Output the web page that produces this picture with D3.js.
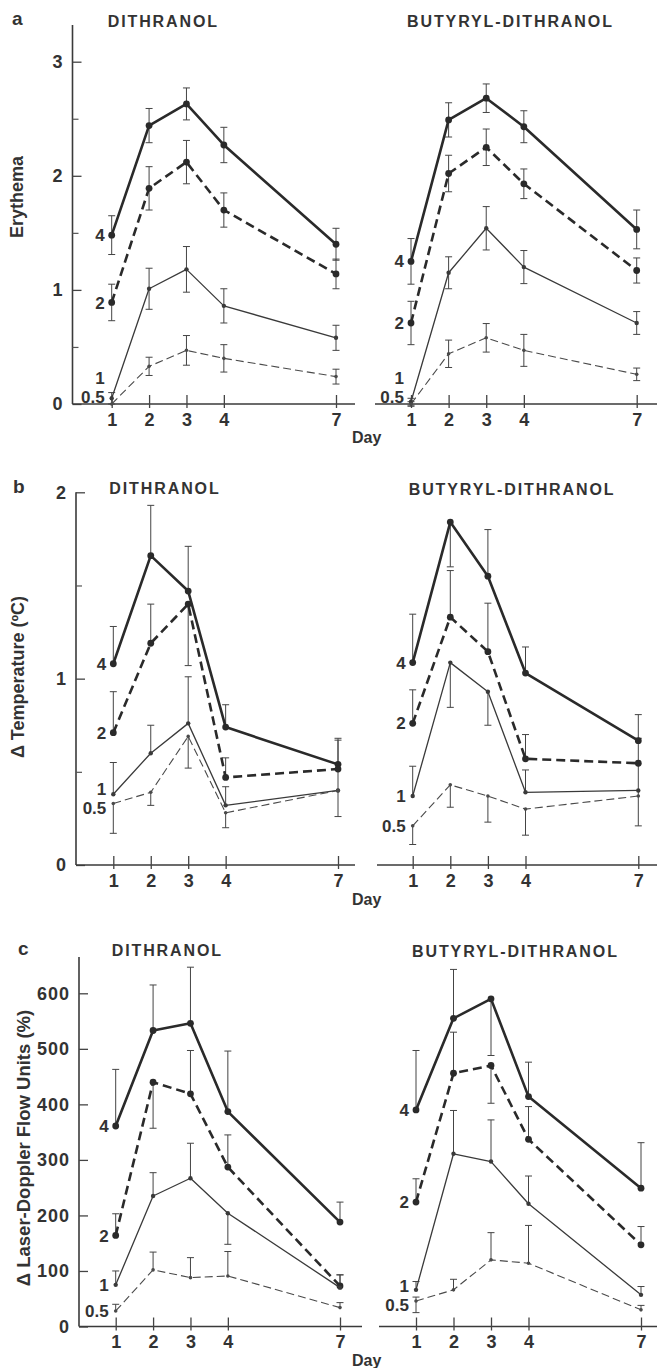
<!DOCTYPE html>
<html>
<head>
<meta charset="utf-8">
<script src="https://cdn.jsdelivr.net/npm/d3@7"></script>
<style>
  body { margin: 0; background: #fff; }
  svg text { font-family: "Liberation Sans", Arial, sans-serif; font-weight: bold; fill: #333; }
</style>
</head>
<body>
<svg id="fig" width="657" height="1368"></svg>
<script>
/* -------------------------------------------------------------------------- */
// data: rows are the doses 4, 2, 1, 0.5 ; columns are the days
const days  = [1, 2, 3, 4, 7];
const doses = ['4', '2', '1', '0.5'];

// a : erythema (symmetric SEM)
const eryDith = [
  [1.48, 2.44, 2.63, 2.27, 1.40],
  [0.89, 1.89, 2.12, 1.70, 1.14],
  [0.05, 1.01, 1.18, 0.86, 0.58],
  [0.00, 0.33, 0.47, 0.40, 0.24]
];
const eryDithErr = [
  [0.17, 0.15, 0.14, 0.155, 0.14],
  [0.16, 0.19, 0.19, 0.15, 0.13],
  [0.05, 0.18, 0.20, 0.15, 0.11],
  [0.00, 0.08, 0.13, 0.12, 0.065]
];
const eryBut = [
  [1.25, 2.49, 2.68, 2.43, 1.53],
  [0.71, 2.02, 2.25, 1.93, 1.17],
  [0.02, 1.15, 1.54, 1.20, 0.71],
  [0.00, 0.44, 0.58, 0.47, 0.26]
];
const eryButErr = [
  [0.20, 0.15, 0.125, 0.14, 0.17],
  [0.19, 0.16, 0.16, 0.13, 0.11],
  [0.03, 0.14, 0.19, 0.145, 0.10],
  [0.02, 0.12, 0.125, 0.14, 0.055]
];

// b : temperature (one sided bars)
const tempDith = [
  [1.08, 1.66, 1.47, 0.74, 0.54],
  [0.71, 1.19, 1.40, 0.47, 0.515],
  [0.38, 0.60, 0.76, 0.32, 0.40],
  [0.33, 0.39, 0.69, 0.28, 0.40]
];
const tempDithUp = [
  [0.20, 0.27, 0.24, 0.12, 0.14],
  [0.22, 0.21, 0, 0.105, 0],
  [0.17, 0.15, 0.25, 0.10, 0.27],
  [0, 0, 0, 0, 0]
];
const tempDithDown = [
  [0, 0, 0, 0, 0],
  [0, 0, 0.33, 0, 0],
  [0, 0, 0, 0, 0.14],
  [0.16, 0.07, 0.17, 0.08, 0]
];
const tempBut = [
  [1.086, 1.84, 1.55, 1.03, 0.667],
  [0.76, 1.33, 1.145, 0.57, 0.546],
  [0.37, 1.086, 0.93, 0.39, 0.40],
  [0.21, 0.43, 0.37, 0.30, 0.37]
];
const tempButUp = [
  [0.26, 0, 0.25, 0.14, 0.14],
  [0.18, 0.25, 0.26, 0.13, 0],
  [0.16, 0, 0, 0.12, 0.28],
  [0, 0, 0, 0, 0]
];
const tempButDown = [
  [0, 0.24, 0, 0, 0],
  [0, 0, 0, 0, 0],
  [0, 0.24, 0.18, 0, 0.19],
  [0.10, 0.12, 0.14, 0.14, 0]
];

// c : laser-doppler flow
const flowDith = [
  [361, 533, 546, 387, 188],
  [164, 440, 419, 287, 73],
  [75, 235, 267, 204, 70],
  [28, 102, 88, 91, 34]
];
const flowDithUp = [
  [102, 82, 101, 109, 36],
  [39, 0, 78, 58, 20],
  [25, 42, 63, 0, 23],
  [12, 32, 36, 44, 9]
];
const flowDithDown = [
  [0, 0, 0, 0, 0],
  [0, 83, 0, 0, 0],
  [0, 0, 0, 56, 0],
  [0, 0, 0, 0, 0]
];
const flowBut = [
  [390, 555, 590, 414, 249],
  [224, 456, 470, 337, 147],
  [66, 311, 297, 221, 57],
  [46, 66, 120, 114, 30]
];
const flowButUp = [
  [107, 88, 0, 62, 82],
  [42, 74, 0, 59, 33],
  [15, 78, 75, 50, 15],
  [7, 19, 49, 68, 8]
];
const flowButDown = [
  [0, 0, 102, 0, 0],
  [0, 0, 68, 0, 0],
  [0, 0, 0, 0, 0],
  [21, 0, 0, 0, 0]
];

/* -------------------------------------------------------------------------- */
const ink = '#2a2a2a';
const styles = [
  {w: 2.6, dash: null,  r: 3.4, col: ink},
  {w: 2.6, dash: '9,5', r: 3.4, col: ink},
  {w: 1.3, dash: null,  r: 2.2, col: '#3a3a3a'},
  {w: 1.1, dash: '8,4', r: 1.8, col: '#4a4a4a'}
];

const panels = [
  { letter: 'a', letterX: 12, letterY: 25,
    ylabel: 'Erythema', ylabelX: 17, ylabelY: 197, ylabelSize: 18,
    y: d3.scaleLinear().domain([0, 3]).range([404, 61.7]),
    axisX: 72.5, yTop: 25, yMajor: [0, 1, 2, 3], yMinor: [0.5, 1.5, 2.5], dayY: 443,
    halves: [
      {title: 'DITHRANOL', titleY: 27, x1: 111.7, x7: 336, from: 72.5, to: 355,
       vals: eryDith, up: eryDithErr, down: eryDithErr},
      {title: 'BUTYRYL-DITHRANOL', titleY: 27, x1: 411, x7: 636.7, from: 375, to: 657,
       vals: eryBut, up: eryButErr, down: eryButErr}
    ]},
  { letter: 'b', letterX: 13, letterY: 493,
    ylabel: 'Δ Temperature (ºC)', ylabelX: 18, ylabelY: 677, ylabelSize: 18,
    y: d3.scaleLinear().domain([0, 2]).range([865, 492.3]),
    axisX: 76, yTop: 492.3, yMajor: [0, 1, 2], yMinor: [0.5, 1.5], dayY: 905,
    halves: [
      {title: 'DITHRANOL', titleY: 494, x1: 113.3, x7: 338, from: 76, to: 355,
       vals: tempDith, up: tempDithUp, down: tempDithDown},
      {title: 'BUTYRYL-DITHRANOL', titleY: 495, x1: 412.7, x7: 638.3, from: 377, to: 657,
       vals: tempBut, up: tempButUp, down: tempButDown}
    ]},
  { letter: 'c', letterX: 18, letterY: 955,
    ylabel: 'Δ Laser-Doppler Flow Units (%)', ylabelX: 23, ylabelY: 1148, ylabelSize: 18.5,
    y: d3.scaleLinear().domain([0, 600]).range([1326.5, 993.3]),
    axisX: 79, yTop: 957, yMajor: [0, 100, 200, 300, 400, 500, 600], yMinor: [], dayY: 1366,
    halves: [
      {title: 'DITHRANOL', titleY: 956, x1: 115.7, x7: 340, from: 79, to: 362,
       vals: flowDith, up: flowDithUp, down: flowDithDown},
      {title: 'BUTYRYL-DITHRANOL', titleY: 957, x1: 416, x7: 641, from: 379, to: 657,
       vals: flowBut, up: flowButUp, down: flowButDown}
    ]}
];

/* -------------------------------------------------------------------------- */
// push dose labels apart so they don't overlap, keep them above the axis
function spread(ys, gap, maxY) {
  let out = ys.slice();
  let order = d3.range(ys.length).sort((a, b) => ys[a] - ys[b]);
  for (let k = 0; k < 40; k++) {
    for (let i = 1; i < order.length; i++) {
      let a = order[i - 1], b = order[i];
      let d = out[b] - out[a];
      if (d < gap) { let m = (gap - d) / 2; out[a] -= m; out[b] += m; }
    }
    order.forEach(i => { if (out[i] > maxY) out[i] = maxY; });
  }
  return out;
}

function drawHalf(svg, p, h, isLeft) {

  let x = d3.scaleLinear().domain([1, 7]).range([h.x1, h.x7]);
  let y = p.y;
  let y0 = y(0);
  let g = svg.append('g');

  // x axis line + ticks
  g.append('line')
   .attr('x1', h.from).attr('x2', h.to).attr('y1', y0).attr('y2', y0)
   .attr('stroke', '#3a3a3a').attr('stroke-width', 1.6);

  let xa = g.append('g').attr('transform', `translate(0,${y0})`)
    .call(d3.axisBottom(x).tickValues(days).tickSize(-9).tickPadding(9).tickFormat(d3.format('d')));
  xa.select('.domain').remove();
  xa.selectAll('.tick line').attr('y1', 4).attr('stroke', '#444').attr('stroke-width', 1.3);
  xa.selectAll('.tick text').style('font-size', '18px').attr('fill', '#333');

  // title
  g.append('text')
   .attr('x', h.x1 - 4).attr('y', h.titleY)
   .style('font-size', '16px').style('letter-spacing', '1.9px')
   .text(h.title);

  // error bars
  let eb = g.append('g').attr('stroke', '#444').attr('stroke-width', 1);
  h.vals.forEach((row, s) => {
    row.forEach((v, i) => {
      let hi = v + h.up[s][i], lo = v - h.down[s][i];
      if (hi === lo) return;
      let cx = x(days[i]);
      eb.append('line').attr('x1', cx).attr('x2', cx).attr('y1', y(hi)).attr('y2', y(lo));
      [hi, lo].forEach(e => {
        if (e === v) return;
        eb.append('line').attr('x1', cx - 3.5).attr('x2', cx + 3.5).attr('y1', y(e)).attr('y2', y(e));
      });
    });
  });

  // series lines + points
  let line = d3.line().x((d, i) => x(days[i])).y(d => y(d));
  h.vals.forEach((row, s) => {
    let st = styles[s];
    g.append('path').datum(row)
     .attr('d', line).attr('fill', 'none')
     .attr('stroke', st.col).attr('stroke-width', st.w)
     .attr('stroke-dasharray', st.dash)
     .attr('stroke-linejoin', 'round');
    g.selectAll(null).data(row).enter().append('circle')
     .attr('cx', (d, i) => x(days[i])).attr('cy', d => y(d))
     .attr('r', st.r).attr('fill', st.col);
  });

  // dose labels beside day 1
  let ly = spread(h.vals.map(r => y(r[0])), 19, y0 - 7);
  doses.forEach((d, s) => {
    g.append('text')
     .attr('x', h.x1 - 7).attr('y', ly[s]).attr('dy', '0.36em')
     .attr('text-anchor', 'end')
     .style('font-size', '17px')
     .text(d);
  });
}

function drawPanel(svg, p) {

  let y = p.y;
  let g = svg.append('g');

  // y axis
  g.append('line')
   .attr('x1', p.axisX).attr('x2', p.axisX).attr('y1', p.yTop).attr('y2', y(0))
   .attr('stroke', '#3a3a3a').attr('stroke-width', 1.6);

  let ya = g.append('g').attr('transform', `translate(${p.axisX},0)`)
    .call(d3.axisLeft(y).tickValues(p.yMajor).tickSize(-9).tickPadding(9).tickFormat(d3.format('d')));
  ya.select('.domain').remove();
  ya.selectAll('.tick line').attr('stroke', '#444').attr('stroke-width', 1.3);
  ya.selectAll('.tick text').style('font-size', '18px').style('letter-spacing', '1px').attr('fill', '#333');

  let ym = g.append('g').attr('transform', `translate(${p.axisX},0)`)
    .call(d3.axisLeft(y).tickValues(p.yMinor).tickSize(-6).tickFormat(''));
  ym.select('.domain').remove();
  ym.selectAll('.tick line').attr('stroke', '#555').attr('stroke-width', 1.2);

  // y label
  g.append('text')
   .attr('transform', `translate(${p.ylabelX},${p.ylabelY}) rotate(-90)`)
   .attr('text-anchor', 'middle').attr('dy', '0.36em')
   .style('font-size', p.ylabelSize + 'px')
   .text(p.ylabel);

  // panel letter
  g.append('text')
   .attr('x', p.letterX).attr('y', p.letterY)
   .style('font-size', '19px')
   .text(p.letter);

  p.halves.forEach((h, k) => drawHalf(svg, p, h, k === 0));

  // day label in the gap between halves
  g.append('text')
   .attr('x', 352).attr('y', p.dayY)
   .style('font-size', '16px')
   .text('Day');
}

/* -------------------------------------------------------------------------- */
const svg = d3.select('#fig');
panels.forEach(p => drawPanel(svg, p));
</script>
</body>
</html>
